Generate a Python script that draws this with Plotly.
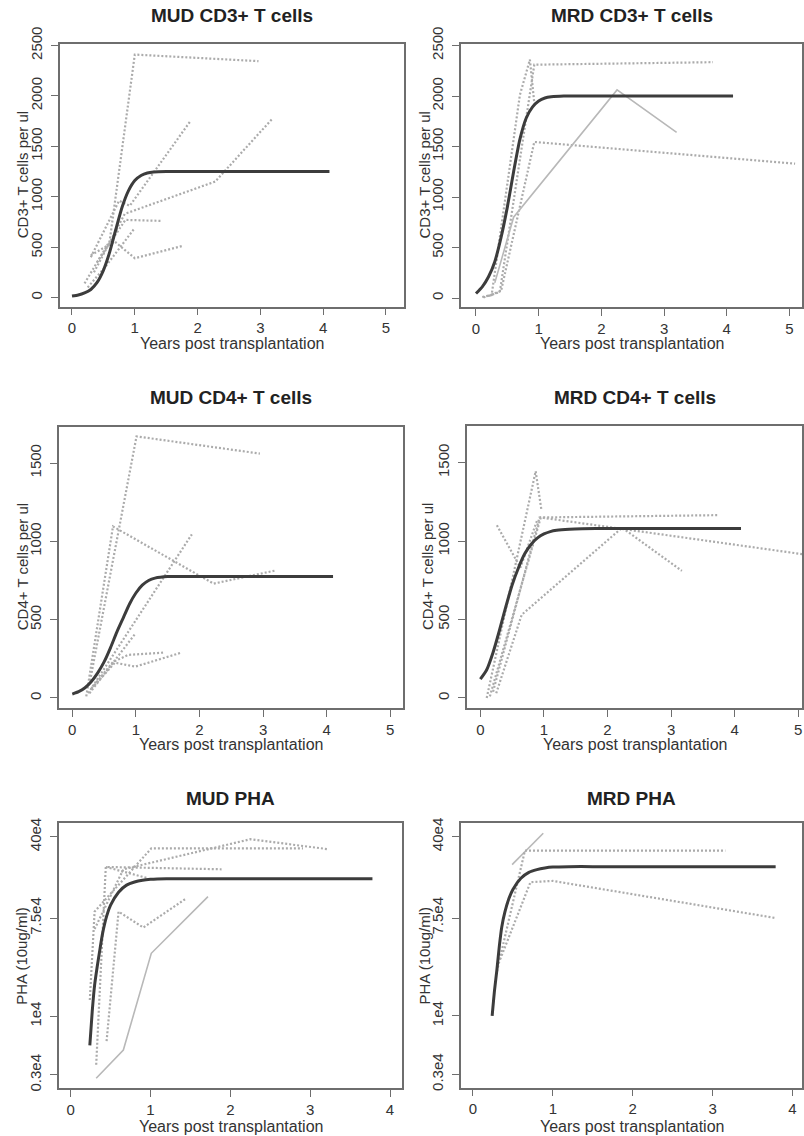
import plotly.graph_objects as go

W, H = 804, 1136

# ---------------- data ----------------
# Row 1: CD3+ T cells per ul
mud_cd3_fit_t = [0, 0.1, 0.2, 0.3, 0.4, 0.5, 0.6, 0.7, 0.8, 0.9, 1.0, 1.1, 1.2, 1.3, 1.5, 2.0, 3.0, 4.1]
mud_cd3_fit_v = [15, 25, 45, 80, 150, 270, 450, 680, 900, 1060, 1160, 1210, 1235, 1245, 1250, 1250, 1250, 1250]
mud_cd3_pat_t = [[0.2, 0.6, 1.0, 2.97], [0.3, 0.75, 0.92, 1.88], [0.35, 0.84, 2.28, 3.2],
                 [0.4, 0.85, 1.43], [0.3, 0.68, 1.0, 1.75], [0.25, 0.55, 1.0]]
mud_cd3_pat_v = [[140, 560, 2410, 2345], [400, 960, 910, 1745], [250, 830, 1150, 1780],
                 [350, 770, 760], [420, 555, 390, 510], [100, 320, 690]]

mrd_cd3_fit_t = [0, 0.1, 0.2, 0.3, 0.4, 0.5, 0.6, 0.7, 0.8, 0.9, 1.0, 1.1, 1.2, 1.4, 1.6, 2.0, 3.0, 4.1]
mrd_cd3_fit_v = [45, 110, 210, 360, 600, 900, 1250, 1570, 1780, 1890, 1950, 1980, 1992, 2000, 2000, 2000, 2000, 2000]
mrd_cd3_pat_t = [[0.1, 0.25, 0.7, 0.86, 0.93], [0.2, 0.38, 0.93, 3.78], [0.12, 0.4, 0.93, 5.09],
                 [0.3, 0.6, 2.25, 3.2]]
mrd_cd3_pat_v = [[10, 30, 2010, 2360, 1930], [20, 60, 2310, 2335], [5, 70, 1545, 1330],
                 [150, 800, 2060, 1640]]

# Row 2: CD4+ T cells per ul
mud_cd4_fit_t = [0, 0.1, 0.2, 0.3, 0.4, 0.5, 0.6, 0.7, 0.8, 0.9, 1.0, 1.1, 1.2, 1.3, 1.5, 2.0, 3.0, 4.1]
mud_cd4_fit_v = [25, 40, 65, 105, 160, 230, 320, 420, 510, 600, 670, 720, 750, 765, 775, 775, 775, 775]
mud_cd4_pat_t = [[0.28, 1.01, 2.95], [0.22, 0.64, 2.22, 3.21], [0.25, 1.88], [0.27, 0.99],
                 [0.3, 0.64, 0.88, 1.45], [0.35, 0.67, 0.99, 1.72]]
mud_cd4_pat_v = [[110, 1670, 1560], [10, 1095, 730, 815], [30, 1045], [30, 410],
                 [60, 230, 275, 290], [80, 225, 200, 290]]

mrd_cd4_fit_t = [0, 0.1, 0.2, 0.3, 0.4, 0.5, 0.6, 0.7, 0.8, 0.9, 1.0, 1.1, 1.2, 1.4, 1.6, 2.0, 3.0, 4.1]
mrd_cd4_fit_v = [120, 180, 290, 430, 580, 720, 830, 920, 980, 1020, 1045, 1060, 1068, 1075, 1078, 1080, 1080, 1080]
mrd_cd4_pat_t = [[0.1, 0.87, 0.96], [0.2, 0.93, 3.75], [0.15, 0.95, 5.09],
                 [0.25, 0.65, 2.23, 3.17], [0.26, 0.63, 0.9]]
mrd_cd4_pat_v = [[0, 1445, 1200], [40, 1150, 1165], [10, 1150, 915],
                 [30, 530, 1085, 810], [1100, 830, 1140]]

# Row 3: PHA (10ug/ml), log scale
mud_pha_fit_t = [0.24, 0.27, 0.3, 0.33, 0.36, 0.4, 0.45, 0.5, 0.6, 0.7, 0.8, 0.9, 1.0, 1.2, 1.5, 2.0, 3.0, 3.78]
mud_pha_fit_v = [5500, 11000, 19000, 27000, 37000, 55000, 78000, 98000, 128000, 148000, 158000, 164000,
                 167000, 169000, 169000, 169000, 169000, 169000]
mud_pha_pat_t = [[0.24, 0.3, 1.01, 2.91], [0.32, 0.44, 1.89], [0.44, 0.95], [0.3, 0.66, 2.25, 3.22],
                 [0.32, 0.66, 1.01, 1.72], [0.45, 0.6, 0.91, 1.45]]
mud_pha_pat_v = [[14000, 86000, 315000, 315000], [3700, 215000, 205000], [215000, 172000],
                 [60000, 205000, 380000, 310000],
                 [2800, 5000, 36500, 117000], [6000, 86000, 62000, 113000]]

mrd_pha_fit_t = [0.24, 0.27, 0.3, 0.33, 0.36, 0.4, 0.45, 0.5, 0.6, 0.7, 0.8, 0.9, 1.0, 1.2, 1.5, 2.0, 3.0, 3.79]
mrd_pha_fit_v = [10000, 17000, 26000, 42000, 62000, 85000, 112000, 135000, 170000, 192000, 203000, 210000,
                 214000, 216000, 216000, 216000, 216000, 216000]
mrd_pha_pat_t = [[0.49, 0.88], [0.3, 0.65, 3.16], [0.34, 0.72, 1.0, 3.79]]
mrd_pha_pat_v = [[225000, 430000], [25000, 300000, 300000], [32000, 157000, 161000, 75000]]

titles = ["MUD CD3+ T cells", "MRD CD3+ T cells", "MUD CD4+ T cells", "MRD CD4+ T cells", "MUD PHA", "MRD PHA"]
y_titles = ["CD3+ T cells per ul", "CD3+ T cells per ul", "CD4+ T cells per ul", "CD4+ T cells per ul",
            "PHA (10ug/ml)", "PHA (10ug/ml)"]
x_title = "Years post transplantation"
x_ticks_cd = [0, 1, 2, 3, 4, 5]
x_ticks_pha = [0, 1, 2, 3, 4]
y_ticks_cd3 = [0, 500, 1000, 1500, 2000, 2500]
y_ticks_cd4 = [0, 500, 1000, 1500]
y_ticks_pha = [3000, 10000, 75000, 400000]
y_ticktext_pha = ["0.3e4", "1e4", "7.5e4", "40e4"]

panels = [
    (mud_cd3_fit_t, mud_cd3_fit_v, mud_cd3_pat_t, mud_cd3_pat_v),
    (mrd_cd3_fit_t, mrd_cd3_fit_v, mrd_cd3_pat_t, mrd_cd3_pat_v),
    (mud_cd4_fit_t, mud_cd4_fit_v, mud_cd4_pat_t, mud_cd4_pat_v),
    (mrd_cd4_fit_t, mrd_cd4_fit_v, mrd_cd4_pat_t, mrd_cd4_pat_v),
    (mud_pha_fit_t, mud_pha_fit_v, mud_pha_pat_t, mud_pha_pat_v),
    (mrd_pha_fit_t, mrd_pha_fit_v, mrd_pha_pat_t, mrd_pha_pat_v),
]
# which patient lines are drawn solid (others dotted)
solid_lines = {1: [3], 4: [4], 5: [0]}

# ---------------- layout geometry (pixels) ----------------
boxes = [  # left, right, top, bottom
    (60, 404, 44, 306.5), (461, 802, 44, 307),
    (59, 403, 426.5, 708), (467, 802, 426, 708),
    (59, 402.3, 823.3, 1088.3), (461, 802, 823.3, 1087.7),
]
x_ranges = [(-0.191, 5.287), (-0.239, 5.2), (-0.209, 5.2), (-0.21, 5.06), (-0.146, 4.154), (-0.15, 4.12)]
y_ranges = [(-89, 2515), (-89, 2515), (-64, 1733), (-64, 1733), (3.358, 5.722), (3.358, 5.722)]
title_y = [16, 16, 398, 398, 798, 798]
xtitle_y = [343, 343, 744, 744, 1126, 1126]
ytitle_x = [22, 424, 22, 427, 22, 424]

FONT = "Liberation Sans, Arial, Helvetica, sans-serif"
AX_COL = "#6e6e6e"
TXT_COL = "#333333"
FIT_COL = "#3c3c3c"
PAT_COL = "#ababab"

fig = go.Figure()
layout = dict(
    width=W, height=H, margin=dict(l=0, r=0, t=0, b=0, autoexpand=False),
    paper_bgcolor="white", plot_bgcolor="white", showlegend=False,
    font=dict(family=FONT, color=TXT_COL, size=15),
)
annotations = []

for i, (ft, fv, pts, pvs) in enumerate(panels):
    n = i + 1
    xa = "x" if n == 1 else f"x{n}"
    ya = "y" if n == 1 else f"y{n}"
    for j, (pt, pv) in enumerate(zip(pts, pvs)):
        solid = j in solid_lines.get(i, [])
        fig.add_trace(go.Scatter(
            x=pt, y=pv, mode="lines", xaxis=xa, yaxis=ya, hoverinfo="skip",
            line=dict(color="#b8b8b8" if solid else PAT_COL, width=1.6 if solid else 2.2,
                      dash="solid" if solid else "2px,2px"),
        ))
    fig.add_trace(go.Scatter(
        x=ft, y=fv, mode="lines", xaxis=xa, yaxis=ya, hoverinfo="skip",
        line=dict(color=FIT_COL, width=3, shape="spline", smoothing=0.6),
    ))

    l, r, t, b = boxes[i]
    row = i // 2
    is_log = row == 2
    xkey = "xaxis" if n == 1 else f"xaxis{n}"
    ykey = "yaxis" if n == 1 else f"yaxis{n}"
    layout[xkey] = dict(
        domain=[l / W, r / W], anchor=ya, range=list(x_ranges[i]), automargin=False,
        tickmode="array", tickvals=x_ticks_pha if is_log else x_ticks_cd,
        showline=True, mirror=True, linecolor=AX_COL, linewidth=1.5,
        ticks="outside", ticklen=7, tickwidth=1.3, tickcolor=AX_COL,
        showgrid=False, zeroline=False, tickfont=dict(size=15, color=TXT_COL),
        ticklabelstandoff=0,
    )
    if is_log:
        ydict = dict(type="log", tickmode="array", tickvals=y_ticks_pha, ticktext=y_ticktext_pha)
    else:
        ydict = dict(tickmode="array", tickvals=y_ticks_cd3 if row == 0 else y_ticks_cd4)
    ydict.update(
        domain=[1 - b / H, 1 - t / H], anchor=xa, range=list(y_ranges[i]), automargin=False,
        showline=True, mirror=True, linecolor=AX_COL, linewidth=1.5,
        ticks="outside", ticklen=7, tickwidth=1.3, tickcolor=AX_COL,
        showgrid=False, zeroline=False, tickangle=-90, tickfont=dict(size=15, color=TXT_COL),
        ticklabelstandoff=3,
    )
    layout[ykey] = ydict

    cx = (l + r) / 2
    annotations.append(dict(
        text=f"<b>{titles[i]}</b>", x=cx / W, y=1 - title_y[i] / H, xref="paper", yref="paper",
        xanchor="center", yanchor="middle", showarrow=False,
        font=dict(size=19, color="#222222", family=FONT),
    ))
    annotations.append(dict(
        text=x_title, x=cx / W, y=1 - xtitle_y[i] / H, xref="paper", yref="paper",
        xanchor="center", yanchor="middle", showarrow=False,
        font=dict(size=16, color=TXT_COL, family=FONT),
    ))
    annotations.append(dict(
        text=y_titles[i], x=ytitle_x[i] / W, y=1 - ((t + b) / 2) / H, xref="paper", yref="paper",
        xanchor="center", yanchor="middle", showarrow=False, textangle=-90,
        font=dict(size=15, color=TXT_COL, family=FONT),
    ))

layout["annotations"] = annotations
fig.update_layout(**layout)
fig.write_html("out.html")
